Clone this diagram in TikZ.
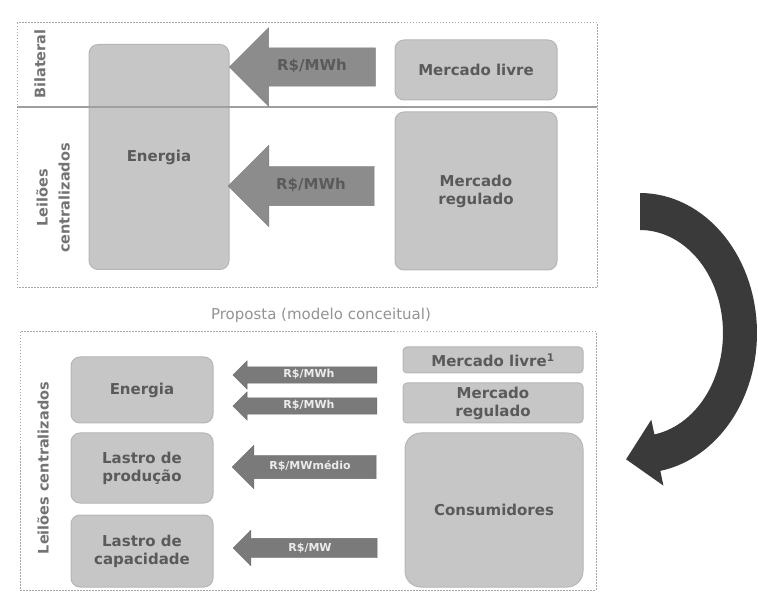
\documentclass[tikz,border=0pt]{standalone}
\usepackage{fontspec}
\setmainfont{DejaVu Sans}
\usetikzlibrary{shapes.arrows}

\definecolor{boxgray}{HTML}{C6C6C6}
\definecolor{boxline}{HTML}{B6B6B6}
\definecolor{txtgray}{HTML}{5A5A5A}
\definecolor{arrgray}{HTML}{8C8C8C}
\definecolor{arrdark}{HTML}{7A7A7A}
\definecolor{framegray}{HTML}{A8A8A8}
\definecolor{turngray}{HTML}{3A3A3A}

\begin{document}
\begin{tikzpicture}[x=1pt, y=-1pt,
  block/.style={rectangle, rounded corners=9pt, fill=boxgray, draw=boxline, line width=1pt,
    text=txtgray, font=\bfseries\fontsize{15}{18}\selectfont, align=center, inner sep=0pt},
  flow/.style={single arrow, shape border rotate=180, fill=arrgray, draw=arrgray!90!black,
    single arrow head extend=20pt, minimum height=146pt, inner xsep=4pt, inner ysep=13.5pt,
    text height=9pt, text depth=2pt, text=txtgray, font=\bfseries\fontsize{15}{16}\selectfont},
  price/.style={single arrow, shape border rotate=180, fill=arrdark, draw=arrdark!90!black,
    single arrow head extend=6pt, minimum height=144pt, inner xsep=3pt, inner ysep=3.5pt,
    text height=7.5pt, text depth=1.5pt, text=white!92!black, font=\bfseries\fontsize{11}{12}\selectfont},
  side/.style={text=txtgray!85, font=\bfseries\fontsize{14.5}{22}\selectfont, align=center, inner sep=0pt},
  frame/.style={draw=framegray, line width=1pt, dash pattern=on 1.5pt off 1.5pt}]

\useasboundingbox (0,0) rectangle (758,601);

% modelo atual
\draw[frame] (17,23) rectangle (597,288);
\node[block, minimum width=140pt, minimum height=225pt] (ener1) at (159,157) {Energia};
\node[block, minimum width=162pt, minimum height=60pt] (livre1) at (476,70) {Mercado livre};
\node[block, minimum width=162pt, minimum height=158pt] (reg1) at (476,191) {Mercado\\regulado};
\draw[draw=gray!75, line width=2.5pt] (17,107) -- (597,107);
\node[flow] (p1) at (312,67) {R\$/MWh};
\node[flow, single arrow head extend=21pt, inner ysep=14pt] (p2) at (311,186) {R\$/MWh};
\node[side, rotate=90] (bilat) at (40,64) {Bilateral};
\node[side, rotate=90] (leil1) at (53,198) {Leilões\\centralizados};

% seta de transicao
\fill[turngray] plot[domain=-90:80, samples=60] ({640+117*cos(\x)}, {333+140*sin(\x)})
  -- (663.4,485.6) -- (626.1,459.3) -- (651.3,419.7)
  -- plot[domain=80:-90, samples=60] ({640+83*cos(\x)}, {333+103*sin(\x)}) -- cycle;

% proposta
\node[text=gray!85, font=\fontsize{15}{17}\selectfont] (prop) at (321,315) {Proposta (modelo conceitual)};
\draw[frame] (20,332) rectangle (596,590);
\node[block, minimum width=142pt, minimum height=66pt] (ener2) at (142,390) {Energia};
\node[block, minimum width=142pt, minimum height=70pt] (prod) at (142,468) {Lastro de\\produção};
\node[block, minimum width=142pt, minimum height=72pt] (capac) at (142,551) {Lastro de\\capacidade};
\node[block, rounded corners=4pt, minimum width=180pt, minimum height=26pt] (livre2) at (493,360) {Mercado livre\textsuperscript{1}};
\node[block, rounded corners=4pt, minimum width=180pt, minimum height=40pt] (reg2) at (493,403) {Mercado\\regulado};
\node[block, rounded corners=16pt, minimum width=178pt, minimum height=154pt] (cons) at (494,510) {Consumidores};
\node[price] (q1) at (309,375) {R\$/MWh};
\node[price] (q2) at (309,406) {R\$/MWh};
\node[price, single arrow head extend=10pt, inner ysep=7pt] (q3) at (310,467) {R\$/MWmédio};
\node[price, single arrow head extend=8pt, inner ysep=5pt] (q4) at (310,548) {R\$/MW};
\node[side, rotate=90] (leil2) at (43,468) {Leilões centralizados};
\end{tikzpicture}
\end{document}
